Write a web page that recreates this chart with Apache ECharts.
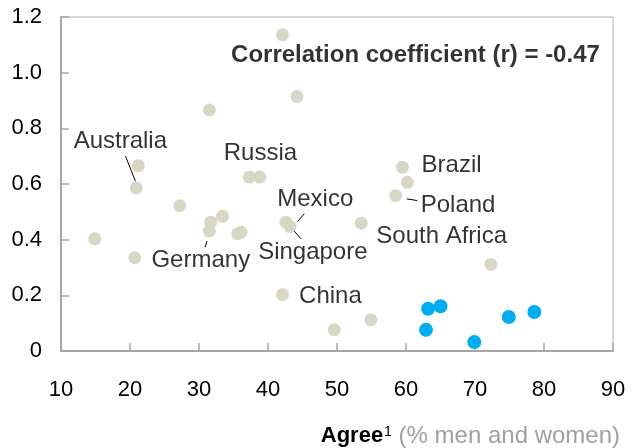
<!DOCTYPE html>
<html>
<head>
<meta charset="utf-8">
<script src="https://cdn.jsdelivr.net/npm/echarts@6/dist/echarts.min.js"></script>
<style>
  html, body { margin: 0; padding: 0; background: #fff; }
  #main { width: 640px; height: 448px; }
</style>
</head>
<body>
<div id="main"></div>
<script>
// other countries (beige)
var greyX = [42.1, 44.2, 31.5, 21.2, 20.9, 37.3, 38.8, 27.2, 14.9, 20.7, 31.7, 33.4, 31.5, 35.6, 36.1, 42.6, 43.2, 53.5, 42.1, 49.6, 54.9, 59.5, 60.2, 58.5, 72.3];
var greyY = [1.136, 0.914, 0.866, 0.666, 0.586, 0.625, 0.625, 0.522, 0.403, 0.335, 0.463, 0.484, 0.431, 0.421, 0.427, 0.463, 0.447, 0.459, 0.202, 0.076, 0.112, 0.660, 0.606, 0.558, 0.311];
// highlighted countries (blue)
var blueX = [63.2, 65.0, 62.9, 69.9, 74.9, 78.6];
var blueY = [0.152, 0.161, 0.076, 0.032, 0.122, 0.140];

// country labels, placed in data space
var labelNames = ["Australia", "Russia", "Mexico", "Singapore", "Germany", "China", "Brazil", "Poland", "South Africa"];
var labelX = [18.6, 38.9, 46.85, 46.5, 30.26, 49.05, 66.6, 67.55, 65.17];
var labelY = [0.752, 0.711, 0.544, 0.353, 0.327, 0.198, 0.668, 0.522, 0.411];

// leader lines [x1, y1, x2, y2]
var leaders = [
  [19.35, 0.700, 20.79, 0.610],
  [45.26, 0.493, 44.29, 0.465],
  [43.82, 0.4305, 44.78, 0.403],
  [31.17, 0.395, 30.88, 0.373],
  [60.1, 0.5465, 61.63, 0.5405]
];

var corrText = "Correlation coefficient (r) = -0.47";
var corrPos = [61.37, 1.0625];

var xTicks = [10, 90, 10];
var yTicks = [0, 1.2, 0.2];

function pairs(xs, ys) {
  return xs.map(function (x, i) { return [x, ys[i]]; });
}

var labelData = labelNames.map(function (n, i) {
  return { name: n, value: [labelX[i], labelY[i]] };
});
labelData.push({
  name: corrText,
  value: corrPos,
  label: { fontWeight: "bold", fontSize: 24 }
});

var chart = echarts.init(document.getElementById("main"));
chart.setOption({
  animation: false,
  textStyle: { fontFamily: "Liberation Sans, Arial, sans-serif" },
  grid: {
    left: 61, right: 27, top: 17, bottom: 96,
    show: true, borderColor: "#b0b0b0", borderWidth: 1
  },
  xAxis: {
    type: "value",
    min: xTicks[0], max: xTicks[1], interval: xTicks[2],
    axisLine: { lineStyle: { color: "#a6a6a6", width: 2 } },
    axisTick: { inside: true, length: 8, lineStyle: { color: "#a6a6a6", width: 1.5 } },
    axisLabel: { color: "#000", fontSize: 22, margin: 28 },
    splitLine: { show: false },
    name: "{b|Agree}{s|1}{g| (% men and women)}",
    nameLocation: "end",
    nameGap: 7,
    nameTextStyle: {
      align: "right", verticalAlign: "top", padding: [73, 0, 0, 0],
      rich: {
        b: { fontWeight: "bold", fontSize: 22, color: "#000" },
        s: { fontSize: 14, color: "#000", padding: [0, 0, 8, 1] },
        g: { fontSize: 24, color: "#a0a0a0" }
      }
    }
  },
  yAxis: {
    type: "value",
    min: yTicks[0], max: yTicks[1], interval: yTicks[2],
    axisLine: { show: true, lineStyle: { color: "#a6a6a6", width: 2 } },
    axisTick: { show: true, inside: true, length: 8, lineStyle: { color: "#a6a6a6", width: 1.5 } },
    axisLabel: {
      color: "#000", fontSize: 22, margin: 19,
      formatter: function (v) { return v === 0 ? "0" : v.toFixed(1); }
    },
    splitLine: { show: false }
  },
  series: [
    {
      type: "scatter",
      data: pairs(greyX, greyY),
      symbolSize: 13,
      itemStyle: { color: "#d8d7c5", opacity: 1 }
    },
    {
      type: "scatter",
      data: pairs(blueX, blueY),
      symbolSize: 14,
      itemStyle: { color: "#00aeef", opacity: 1 }
    },
    {
      type: "scatter",
      data: labelData,
      symbolSize: 0,
      silent: true,
      z: 5,
      label: {
        show: true, position: "inside", formatter: "{b}",
        color: "#000", fontSize: 24, textBorderWidth: 0
      },
      markLine: {
        silent: true,
        symbol: "none",
        label: { show: false },
        lineStyle: { color: "#000", width: 1, type: "solid" },
        data: leaders.map(function (l) {
          return [{ coord: [l[0], l[1]] }, { coord: [l[2], l[3]] }];
        })
      }
    }
  ]
});
</script>
</body>
</html>
